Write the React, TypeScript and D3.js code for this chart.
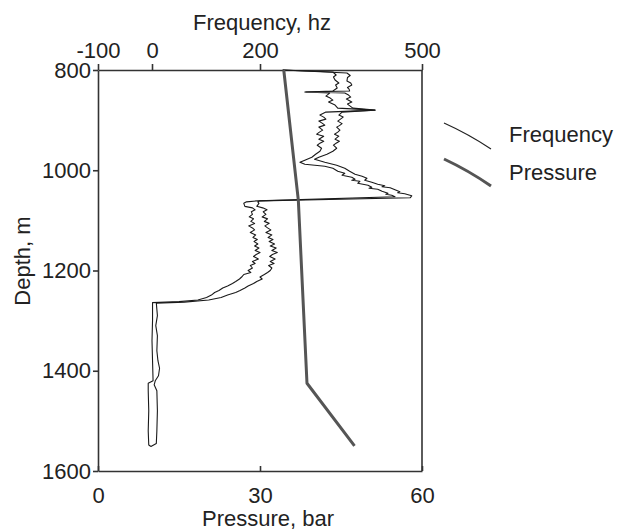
import React, { useEffect, useRef } from 'react';
import * as d3 from 'd3';

// ---- data ----
const depthTicks = [800, 1000, 1200, 1400, 1600];
const freqTicks = [-100, 0, 200, 500];
const pressureTicks = [0, 30, 60];

// frequency band: left (lower) trace, [depth m, frequency hz]
const freqLeft: [number, number][] = [
  [800, 242], [804, 335], [810, 341], [814, 336], [820, 339], [826, 346], [830, 340], [836, 343], [842, 335], [844, 283],
  [846, 329], [852, 322], [856, 330], [860, 335], [864, 327], [870, 339], [876, 344], [880, 413], [884, 322],
  [890, 311], [894, 318], [898, 322], [902, 309], [906, 315], [910, 320], [914, 309], [920, 316], [924, 310], [928, 305], [932, 318],
  [938, 309], [942, 318], [946, 311], [950, 306], [956, 314], [962, 311], [968, 303], [974, 296], [980, 283],
  [984, 274], [988, 283], [992, 320], [996, 335], [1002, 344], [1006, 357], [1010, 352], [1014, 370],
  [1018, 376], [1020, 370], [1022, 385], [1026, 381], [1030, 400], [1034, 407], [1036, 402], [1038, 418], [1042, 426],
  [1046, 437], [1048, 433], [1050, 444], [1053, 450], [1061, 196], [1063, 175], [1066, 170], [1072, 172],
  [1075, 186], [1079, 191], [1083, 184], [1088, 186], [1093, 180], [1097, 188], [1102, 183], [1106, 190], [1111, 179],
  [1115, 186], [1119, 190], [1124, 182], [1129, 192], [1134, 187], [1138, 195], [1142, 189], [1147, 196], [1151, 190], [1155, 198],
  [1160, 191], [1164, 200], [1168, 193], [1172, 188], [1177, 197], [1182, 186], [1186, 191], [1190, 182], [1195, 186],
  [1200, 178], [1204, 183], [1208, 170], [1213, 166], [1217, 162], [1222, 155], [1226, 149], [1231, 140], [1235, 131],
  [1240, 124], [1244, 116], [1249, 110], [1254, 101], [1259, 85], [1262, 50], [1264, 1], [1300, 1], [1340, 0],
  [1380, 1], [1420, 2], [1425, -7], [1440, -7], [1480, -6], [1520, -7], [1548, -6], [1551, -2],
];

// frequency band: right (upper) trace, [depth m, frequency hz]
const freqRight: [number, number][] = [
  [800, 242], [806, 361], [811, 367], [815, 362], [822, 361], [826, 368], [830, 370], [835, 362], [838, 365], [842, 366], [844, 285],
  [846, 357], [850, 364], [854, 368], [858, 360], [864, 370], [868, 362], [872, 367], [876, 372], [880, 413], [884, 352],
  [890, 346], [894, 354], [898, 349], [902, 344], [907, 352], [911, 347], [914, 342], [920, 348], [924, 344], [928, 338], [932, 346],
  [938, 339], [942, 347], [946, 341], [950, 336], [956, 342], [962, 335], [968, 324], [974, 309], [978, 301],
  [984, 320], [990, 342], [996, 357], [1002, 366], [1008, 376], [1012, 389], [1016, 398],
  [1020, 394], [1024, 407], [1028, 418], [1031, 431], [1033, 426], [1035, 441], [1039, 450], [1043, 459],
  [1045, 455], [1047, 468], [1051, 481], [1055, 478], [1061, 200], [1063, 196], [1066, 198], [1072, 194],
  [1075, 205], [1079, 213], [1083, 206], [1088, 211], [1093, 204], [1097, 214], [1102, 208], [1106, 217], [1111, 209],
  [1115, 214], [1119, 220], [1124, 211], [1129, 222], [1134, 215], [1138, 224], [1142, 217], [1147, 227], [1151, 219], [1155, 230],
  [1160, 222], [1164, 232], [1168, 223], [1172, 218], [1177, 228], [1182, 219], [1186, 226], [1190, 216], [1195, 222],
  [1200, 219], [1204, 214], [1208, 208], [1213, 200], [1217, 204], [1222, 194], [1226, 188], [1231, 178], [1235, 172],
  [1240, 163], [1244, 155], [1249, 140], [1254, 128], [1259, 105], [1263, 60], [1265, 8], [1290, 10],
  [1310, 7], [1330, 10], [1360, 9], [1380, 11], [1395, 14], [1410, 12], [1420, 6], [1428, 4],
  [1440, 9], [1480, 10], [1520, 9], [1545, 8], [1551, -2],
];

const pressureDepth = [800, 1060, 1425, 1550];
const pressureValue = [34.4, 37.1, 38.7, 47.5];

const legendLabels = ['Frequency', 'Pressure'];

const W = 623;
const H = 531;
const FONT = '"Liberation Sans", Arial, Helvetica, sans-serif';
const FS = 22;
const TEXT = '#222';
const AXIS = '#333';

export default function App() {
  const ref = useRef<SVGSVGElement>(null);

  useEffect(() => {
    const svg = d3.select(ref.current);
    svg.selectAll('*').remove();

    const left = 98, right = 422, top = 70, bottom = 471;
    const y = d3.scaleLinear().domain([800, 1600]).range([top, bottom]);
    const xf = d3.scaleLinear().domain([-100, 500]).range([left, right]);
    const xp = d3.scaleLinear().domain([0, 60]).range([left, right]);

    const styleAxis = (g: any) => {
      g.select('.domain').attr('stroke', AXIS).attr('stroke-width', 1.6);
      g.selectAll('.tick line').attr('stroke', AXIS).attr('stroke-width', 1.6);
      g.selectAll('.tick text').attr('fill', TEXT).style('font-family', FONT).style('font-size', FS + 'px');
    };
    const fmt = (d: any) => String(d);

    // left axis
    svg.append('g').attr('transform', `translate(${left},0)`)
      .call(d3.axisLeft(y).tickValues(depthTicks).tickSize(5).tickSizeOuter(0).tickPadding(2).tickFormat(fmt) as any)
      .call(styleAxis);
    // top axis
    svg.append('g').attr('transform', `translate(0,${top})`)
      .call(d3.axisTop(xf).tickValues(freqTicks).tickSize(6).tickSizeOuter(0).tickPadding(6).tickFormat(fmt) as any)
      .call(styleAxis);
    // bottom axis
    svg.append('g').attr('transform', `translate(0,${bottom})`)
      .call(d3.axisBottom(xp).tickValues(pressureTicks).tickSize(-5).tickSizeOuter(0).tickPadding(16).tickFormat(fmt) as any)
      .call(styleAxis);
    // right frame
    svg.append('line').attr('x1', right).attr('x2', right).attr('y1', top).attr('y2', bottom)
      .attr('stroke', AXIS).attr('stroke-width', 1.6);

    // axis titles
    const title = (txt: string, x: number, yy: number, rot = 0) =>
      svg.append('text').text(txt)
        .attr('transform', `translate(${x},${yy}) rotate(${rot})`)
        .attr('text-anchor', 'middle')
        .attr('fill', TEXT).style('font-family', FONT).style('font-size', FS + 'px');
    title('Frequency, hz', 262, 30);
    title('Pressure, bar', 268, 526);
    title('Depth, m', 30, 261, -90);

    // frequency traces
    const fline = d3.line<[number, number]>().x(d => xf(d[1])).y(d => y(d[0]));
    [freqLeft, freqRight].forEach(tr => {
      svg.append('path').attr('d', fline(tr) as string)
        .attr('fill', 'none').attr('stroke', '#1a1a1a').attr('stroke-width', 1.1)
        .attr('stroke-linejoin', 'round');
    });

    // pressure
    const pline = d3.line<number>().x((_, i) => xp(pressureValue[i])).y(d => y(d));
    svg.append('path').attr('d', pline(pressureDepth) as string)
      .attr('fill', 'none').attr('stroke', '#555').attr('stroke-width', 3)
      .attr('stroke-linejoin', 'round');

    // legend
    const lg = svg.append('g');
    const curves = [
      { x0: 444, y0: 123, x1: 491, y1: 149, w: 1.2, c: '#222' },
      { x0: 444, y0: 159, x1: 491, y1: 186, w: 3, c: '#555' },
    ];
    curves.forEach((cv, i) => {
      const p = d3.path();
      p.moveTo(cv.x0, cv.y0);
      p.quadraticCurveTo((cv.x0 + cv.x1) / 2 + 1, (cv.y0 + cv.y1) / 2 - 2, cv.x1, cv.y1);
      lg.append('path').attr('d', p.toString()).attr('fill', 'none')
        .attr('stroke', cv.c).attr('stroke-width', cv.w);
      lg.append('text').text(legendLabels[i])
        .attr('x', 509).attr('y', i === 0 ? 142 : 180)
        .attr('fill', TEXT).style('font-family', FONT).style('font-size', FS + 'px');
    });
  }, []);

  return (
    <svg ref={ref} width={W} height={H}
      style={{ position: 'absolute', left: 0, top: 0, background: '#fff' }} />
  );
}
